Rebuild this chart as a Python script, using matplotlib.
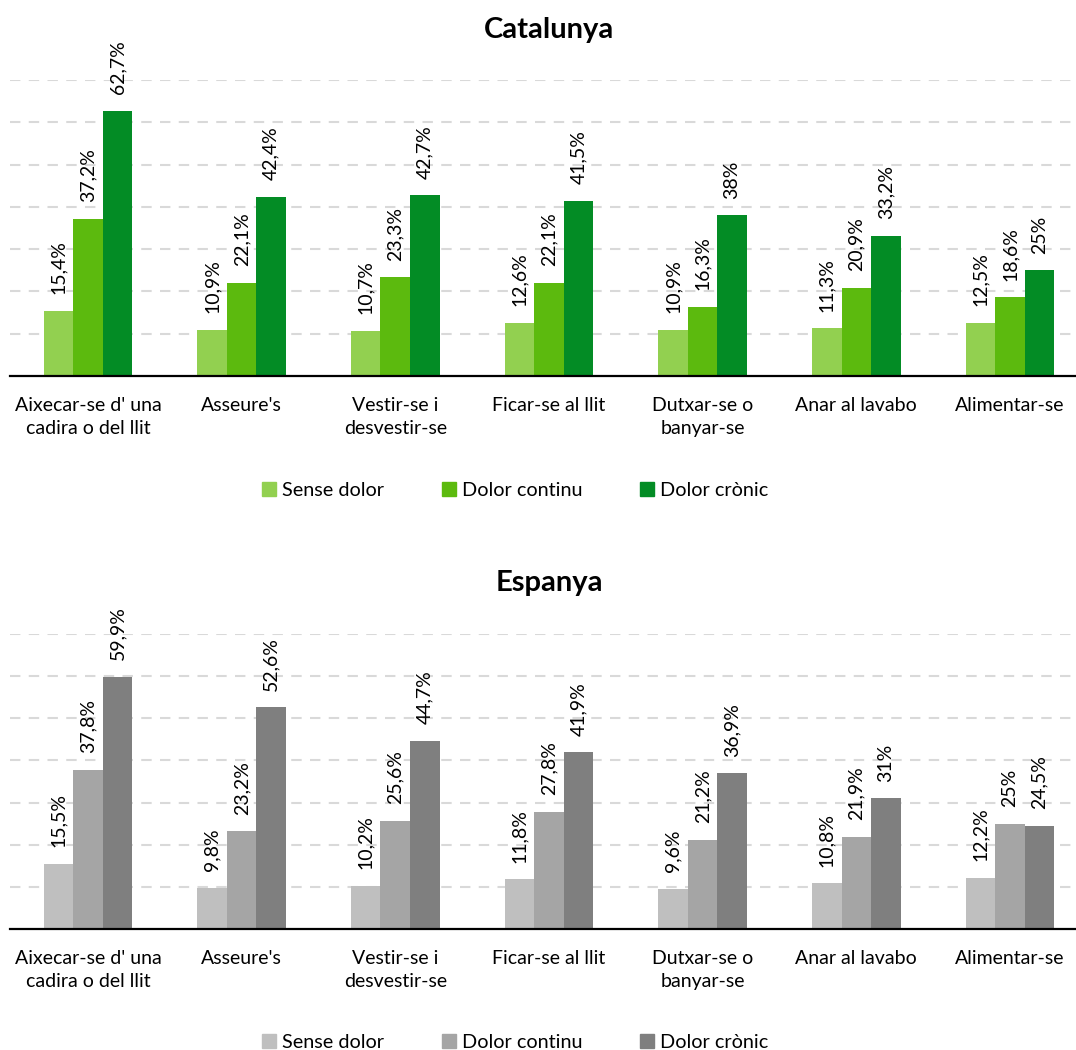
import numpy as np
import matplotlib
matplotlib.use("Agg")
import matplotlib.pyplot as plt
from matplotlib.patches import Patch

plt.rcParams['font.family'] = ['Lato', 'DejaVu Sans']

categories = ["Aixecar-se d' una\ncadira o del llit", "Asseure's", "Vestir-se i\ndesvestir-se",
              "Ficar-se al llit", "Dutxar-se o\nbanyar-se", "Anar al lavabo", "Alimentar-se"]
series = ["Sense dolor", "Dolor continu", "Dolor crònic"]

cat_sense = [15.4, 10.9, 10.7, 12.6, 10.9, 11.3, 12.5]
cat_continu = [37.2, 22.1, 23.3, 22.1, 16.3, 20.9, 18.6]
cat_cronic = [62.7, 42.4, 42.7, 41.5, 38.0, 33.2, 25.0]

esp_sense = [15.5, 9.8, 10.2, 11.8, 9.6, 10.8, 12.2]
esp_continu = [37.8, 23.2, 25.6, 27.8, 21.2, 21.9, 25.0]
esp_cronic = [59.9, 52.6, 44.7, 41.9, 36.9, 31.0, 24.5]

green = ['#92D050', '#5CBA0E', '#038C25']
grey = ['#BFBFBF', '#A5A5A5', '#7F7F7F']


def fmt(v):
    s = ('%.1f' % v).replace('.', ',')
    if s.endswith(',0'):
        s = s[:-2]
    return s + '%'


def panel(ax, data, colors):
    x = np.arange(len(categories))
    w = 0.192
    for i, vals in enumerate(data):
        pos = x + (i - 1) * w
        ax.bar(pos, vals, w, color=colors[i], zorder=3)
        for p, v in zip(pos, vals):
            ax.annotate(fmt(v), (p, v), xytext=(0, 12), textcoords='offset points',
                        rotation=90, ha='center', va='bottom', fontsize=14,
                        color='#000000', annotation_clip=False)
    ax.set_xlim(-0.507, 6.43)
    ax.set_ylim(0, 70)
    ax.set_yticks(np.arange(10, 71, 10))
    ax.yaxis.grid(True, color='#D9D9D9', linestyle=(0, (5, 4)), linewidth=1.5, zorder=0)
    ax.tick_params(axis='y', left=False, labelleft=False)
    ax.tick_params(axis='x', length=0, pad=15, labelsize=14)
    ax.set_xticks(x)
    ax.set_xticklabels(categories, linespacing=1.45)
    for s in ['top', 'right', 'left']:
        ax.spines[s].set_visible(False)
    ax.spines['bottom'].set_linewidth(1.6)
    ax.spines['bottom'].set_zorder(4)


fig = plt.figure(figsize=(10.76, 10.5), dpi=100)
ax1 = fig.add_axes([10 / 1076, 1 - 376 / 1050, 1066 / 1076, 296 / 1050])
ax2 = fig.add_axes([10 / 1076, 1 - 929 / 1050, 1066 / 1076, 295 / 1050])

panel(ax1, [cat_sense, cat_continu, cat_cronic], green)
panel(ax2, [esp_sense, esp_continu, esp_cronic], grey)

fig.text(549 / 1076, 1 - 30 / 1050, 'Catalunya', ha='center', va='center', fontsize=21, fontweight='bold')
fig.text(549 / 1076, 1 - 583 / 1050, 'Espanya', ha='center', va='center', fontsize=21, fontweight='bold')

for colors, yc in [(green, 490), (grey, 1042)]:
    handles = [Patch(color=c) for c in colors]
    fig.legend(handles, series, loc='center', bbox_to_anchor=(515 / 1076, 1 - yc / 1050),
               ncol=3, frameon=False, fontsize=14.3, handlelength=0.7, handleheight=0.7,
               handletextpad=0.3, columnspacing=2.9)

fig.savefig('out.png', dpi=100)
